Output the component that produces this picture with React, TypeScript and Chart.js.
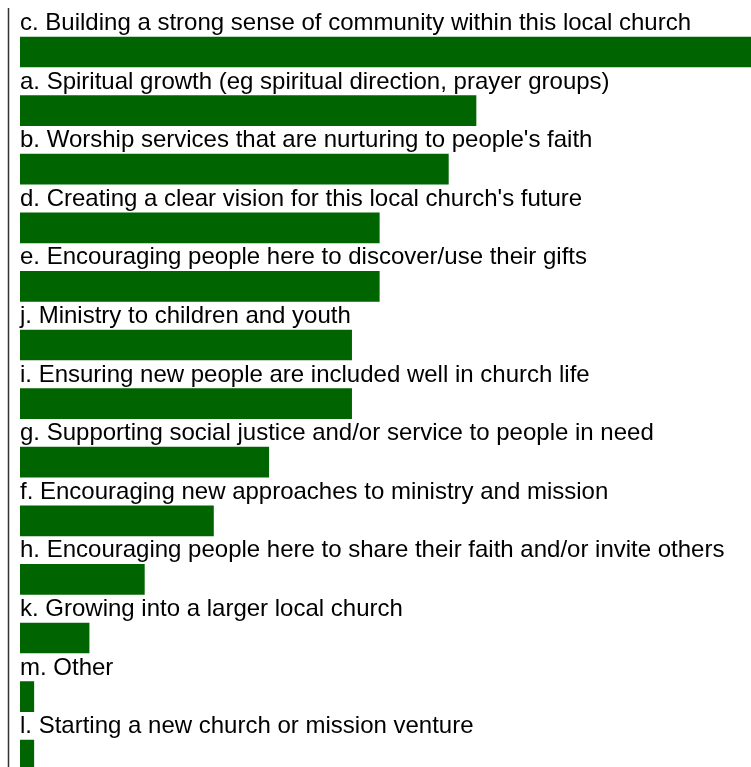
import React, { useEffect, useRef } from "react";
import { Chart, registerables } from "chart.js";

Chart.register(...registerables);

const categories: string[] = [
  "c. Building a strong sense of community within this local church",
  "a. Spiritual growth (eg spiritual direction, prayer groups)",
  "b. Worship services that are nurturing to people's faith",
  "d. Creating a clear vision for this local church's future",
  "e. Encouraging people here to discover/use their gifts",
  "j. Ministry to children and youth",
  "i. Ensuring new people are included well in church life",
  "g. Supporting social justice and/or service to people in need",
  "f. Encouraging new approaches to ministry and mission",
  "h. Encouraging people here to share their faith and/or invite others",
  "k. Growing into a larger local church",
  "m. Other",
  "l. Starting a new church or mission venture",
];

const values: number[] = [53, 33, 31, 26, 26, 24, 24, 18, 14, 9, 5, 1, 1];

const BAR_COLOR = "#006400";

const labelPlugin = {
  id: "labelsAbove",
  afterDatasetsDraw(chart: any) {
    const ctx = chart.ctx;
    const meta = chart.getDatasetMeta(0);
    ctx.save();
    ctx.fillStyle = "#000";
    ctx.font = "24px 'Liberation Sans', Arial, sans-serif";
    ctx.textAlign = "left";
    ctx.textBaseline = "alphabetic";
    meta.data.forEach((bar: any, i: number) => {
      const top = bar.y - bar.height / 2;
      ctx.fillText(categories[i], chart.chartArea.left, top - 7);
    });
    ctx.restore();
  },
  beforeDraw(chart: any) {
    const ctx = chart.ctx;
    ctx.save();
    ctx.strokeStyle = "#333";
    ctx.lineWidth = 1.5;
    ctx.beginPath();
    ctx.moveTo(8.5, 8);
    ctx.lineTo(8.5, chart.height);
    ctx.stroke();
    ctx.restore();
  },
};

export default function App() {
  const ref = useRef<HTMLCanvasElement>(null);
  useEffect(() => {
    if (!ref.current) return;
    const chart = new Chart(ref.current, {
      type: "bar",
      data: {
        labels: categories,
        datasets: [
          {
            data: values,
            backgroundColor: BAR_COLOR,
            borderWidth: 0,
            barThickness: 30,
          },
        ],
      },
      options: {
        indexAxis: "y",
        animation: false,
        responsive: false,
        maintainAspectRatio: false,
        layout: { padding: { left: 20, right: 0, top: 22.7, bottom: 15.5 } },
        plugins: { legend: { display: false }, tooltip: { enabled: false } },
        scales: {
          x: { display: false, min: 0, max: 52.9 },
          y: { display: false },
        },
      },
      plugins: [labelPlugin],
    });
    return () => chart.destroy();
  }, []);
  return (
    <div style={{ position: "fixed", left: 0, top: 0, width: 751, height: 767, overflow: "hidden" }}>
      <canvas ref={ref} width={751} height={800} style={{ width: 751, height: 800, display: "block" }} />
    </div>
  );
}
